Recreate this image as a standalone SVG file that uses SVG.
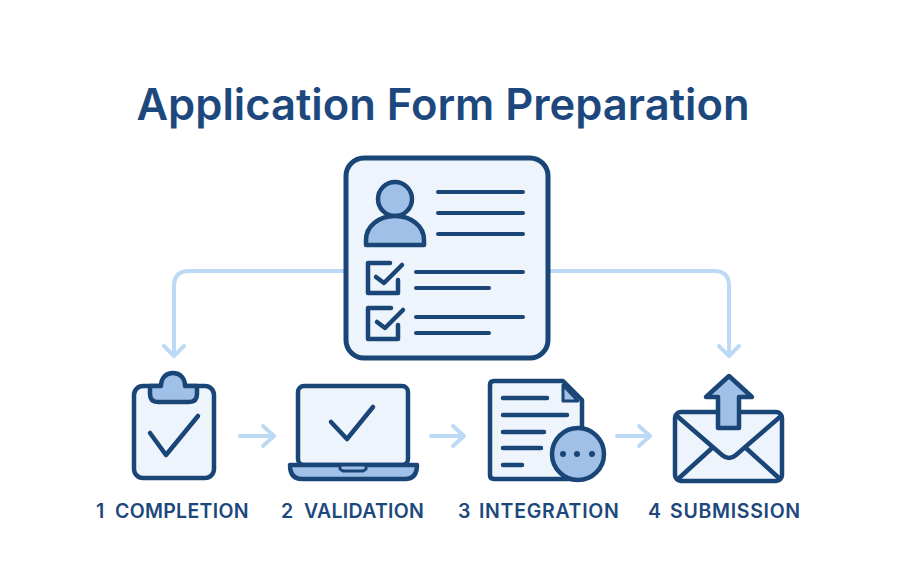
<svg xmlns="http://www.w3.org/2000/svg" width="900" height="576" viewBox="0 0 900 576">
<defs><style>
text{font-family:Inter,"Liberation Sans",sans-serif;fill:#1d487c}
.t{font-size:43.5px;font-weight:600;fill:#1d487d}
.l{font-size:19.5px;font-weight:600;letter-spacing:.3px}
.x{letter-spacing:.7px}
.s{fill:none;stroke:#1a4577;stroke-linecap:round;stroke-linejoin:round}
.w{stroke-width:4.5}
.m{stroke-width:4}
.p{fill:#edf4fc;stroke:#1a4577;stroke-width:4.5;stroke-linejoin:round}
.b{fill:#a0c0e8;stroke:#1a4577;stroke-width:4.5;stroke-linejoin:round}
.c{fill:none;stroke:#bcd9f5;stroke-width:4;stroke-linecap:round;stroke-linejoin:round}
</style></defs>
<rect width="900" height="576" fill="#fff"/>
<text class="t" x="443" y="120" text-anchor="middle">Application Form Preparation</text>
<g id="connectors">
<path class="c" d="M345 271H189Q174 271 174 286V356M164 346L174 356L184 346"/>
<path class="c" d="M549 271H714Q729 271 729 286V356M719 346L729 356L739 346"/>
<path class="c" d="M240 436H274M263 426L274 436L263 446"/>
<path class="c" d="M431 436H464M453 426L464 436L453 446"/>
<path class="c" d="M617 436H650M639 426L650 436L639 446"/>
</g>
<g id="form">
<rect class="p" x="346" y="158" width="202" height="200" rx="18" style="stroke-width:5"/>
<circle class="b" cx="395" cy="199" r="17"/>
<path class="b" d="M366 245V240C366 226 379 216 395 216C411 216 424 226 424 240V245Z"/>
<path class="s m" d="M438 192H523M438 213H523M438 234H523M416 272H523M416 288H489M416 317H523M416 333H489"/>
<path class="s w" d="M390 263H368V293H398V280"/>
<path class="s w" d="M376 277L384 283L402 265"/>
<path class="s w" d="M391 308H368V339H398V325"/>
<path class="s w" d="M377 322L385 328L403 310"/>
</g>
<g id="completion">
<rect class="p" x="134" y="386" width="80" height="92" rx="9"/>
<path class="b" d="M150 386H161C161 378 166 373 173 373C180 373 185 378 185 386H197V394Q197 402 189 402H158Q150 402 150 394Z"/>
<path class="s w" d="M150 433L166 455L198 416"/>
</g>
<g id="validation">
<rect class="p" x="298" y="386" width="110" height="79" rx="6"/>
<path class="s w" d="M331 422L347 439L373 407"/>
<path class="b" d="M290 465H417Q417 479 405 479H302Q290 479 290 465Z"/>
<path class="b" style="stroke-width:3" d="M340 465H366V469L363 471H343L340 469Z"/>
</g>
<g id="integration">
<path class="p" d="M494 381H563L582 400V475Q582 479 578 479H494Q490 479 490 475V385Q490 381 494 381Z"/>
<path class="b" style="stroke-width:3" d="M563 385L578 401H563Z"/>
<path class="s w" d="M503 398H547M503 415H567M503 432H544M503 448H541M503 465H522"/>
<circle class="b" cx="578" cy="454" r="26"/>
<circle cx="563" cy="454" r="3" fill="#1a4577"/><circle cx="577" cy="454" r="3" fill="#1a4577"/><circle cx="592" cy="454" r="3" fill="#1a4577"/>
</g>
<g id="submission">
<rect class="p" x="675" y="412" width="107" height="69" rx="6"/>
<path class="s w" d="M677 416L722 455Q729 461 736 455L781 416"/>
<path class="s w" d="M678 479L711 449M780 479L747 449"/>
<path class="b" d="M718 428V397H706L729 376L752 397H739V428Z"/>
</g>
<g id="labels">
<text class="l" y="518"><tspan x="96">1</tspan> <tspan x="115">COMPLETION</tspan></text>
<text class="l" y="518"><tspan x="281">2</tspan> <tspan x="304">VALIDATION</tspan></text>
<text class="l x" y="518"><tspan x="458">3</tspan> <tspan x="479">INTEGRATION</tspan></text>
<text class="l x" y="518"><tspan x="648">4</tspan> <tspan x="670">SUBMISSION</tspan></text>
</g>
</svg>
